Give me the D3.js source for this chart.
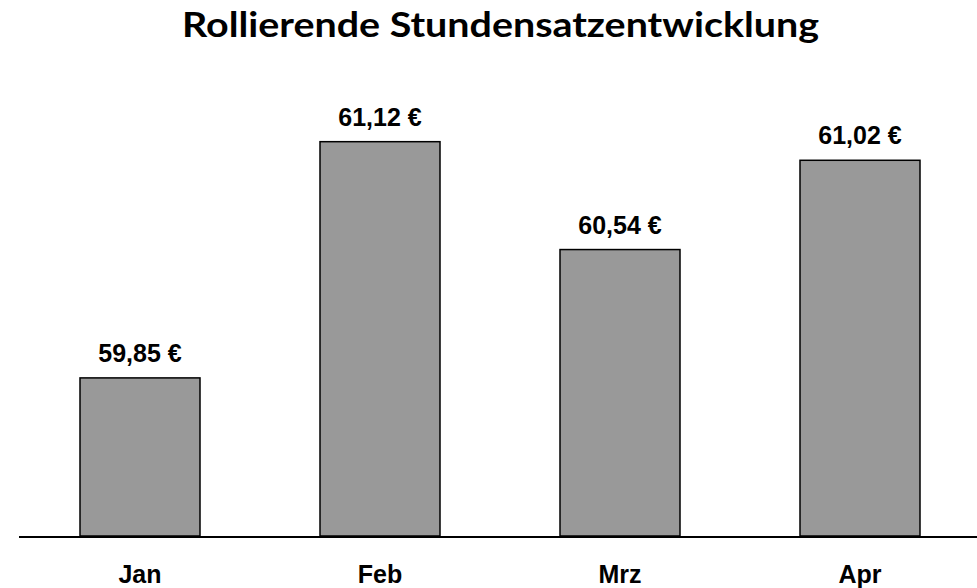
<!DOCTYPE html>
<html><head><meta charset="utf-8">
<script src="https://cdn.jsdelivr.net/npm/d3@7"></script>
<style>body{margin:0;background:#fff}svg{display:block}</style>
</head><body>
<svg id="c" width="977" height="588"></svg>
<script>
const categories = ["Jan", "Feb", "Mrz", "Apr"];
const values = [59.85, 61.12, 60.54, 61.02];
const valueLabels = ["59,85 €", "61,12 €", "60,54 €", "61,02 €"];
const titleText = "Rollierende Stundensatzentwicklung";

const svg = d3.select("#c");
const W = 977, H = 588;
svg.append("rect").attr("width", W).attr("height", H).attr("fill", "#fff");

const x = d3.scaleBand().domain(categories).range([20, 980]).paddingInner(0.5).paddingOuter(0.25);
const y = d3.scaleLinear().domain([59, 61.4]).range([536, 536 - 2.4 * 186]);

svg.append("g").selectAll("rect").data(categories).join("rect")
  .attr("x", d => x(d))
  .attr("width", x.bandwidth())
  .attr("y", (d, i) => y(values[i]))
  .attr("height", (d, i) => y(59) - y(values[i]))
  .attr("fill", "#999999")
  .attr("stroke", "#000")
  .attr("stroke-width", 1.5);

svg.append("g").selectAll("text").data(categories).join("text")
  .attr("x", d => x(d) + x.bandwidth() / 2)
  .attr("y", (d, i) => y(values[i]) - 16)
  .attr("text-anchor", "middle")
  .attr("font-family", "Liberation Sans, Arial, sans-serif")
  .attr("font-weight", "bold")
  .attr("font-size", 25)
  .attr("fill", "#000")
  .text((d, i) => valueLabels[i]);

svg.append("line").attr("x1", 19).attr("x2", 977).attr("y1", 537).attr("y2", 537)
  .attr("stroke", "#000").attr("stroke-width", 2);

svg.append("g").selectAll("text").data(categories).join("text")
  .attr("x", d => x(d) + x.bandwidth() / 2)
  .attr("y", 583)
  .attr("text-anchor", "middle")
  .attr("font-family", "Liberation Sans, Arial, sans-serif")
  .attr("font-weight", "bold")
  .attr("font-size", 25)
  .attr("fill", "#000")
  .text(d => d);

svg.append("text")
  .attr("x", 500.5).attr("y", 37)
  .attr("text-anchor", "middle")
  .attr("font-family", "Lato, Open Sans, sans-serif")
  .attr("font-weight", "bold")
  .attr("font-size", 34)
  .attr("textLength", 637)
  .attr("lengthAdjust", "spacingAndGlyphs")
  .attr("fill", "#000")
  .text(titleText);
</script>
</body></html>
